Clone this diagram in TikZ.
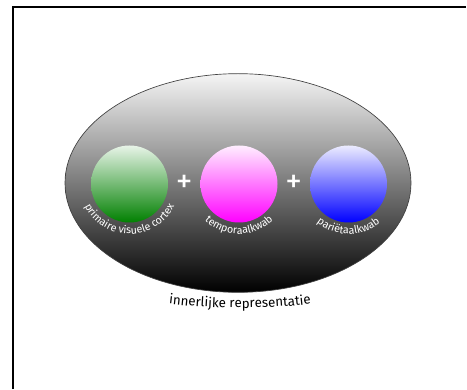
\documentclass[tikz,border=0pt]{standalone}
\usepackage{fontspec}
\setmainfont{Fira Sans}
\usetikzlibrary{shapes.geometric, decorations.text, positioning, calc}

\definecolor{greentop}{RGB}{232,244,232}
\definecolor{greenbot}{RGB}{0,128,0}
\definecolor{pinktop}{RGB}{255,238,255}
\definecolor{pinkbot}{RGB}{255,0,255}
\definecolor{bluetop}{RGB}{236,236,255}
\definecolor{bluebot}{RGB}{0,0,255}

\begin{document}
\begin{tikzpicture}[
    x=0.75pt, y=0.75pt,
    frame/.style={line width=1pt, black},
    brain/.style={ellipse, draw=black!75, line width=0.5pt, top color=white!96!black, bottom color=black, minimum width=259.5pt, minimum height=164pt, inner sep=0pt},
    lobe/.style={circle, minimum size=57.75pt, inner sep=0pt},
    plus/.style={text=white, font=\fontsize{25}{25}\selectfont, inner sep=0pt},
    arclabel/.style={decorate, decoration={text along path, text align=center, text color=white, text={|\fontsize{8}{9}\selectfont|#1}}},
]
\useasboundingbox (0,0) rectangle (467,389);

% === Frame ===
\draw[frame] (13,0) -- (13,382) -- (466,382);

% === Representation ===
\node (rep) [brain] at (238,206) {};

% === Lobes ===
\node (cortex) [lobe, top color=greentop, bottom color=greenbot] at (129.5,205) {};
\node (temporal) [lobe, top color=pinktop, bottom color=pinkbot] at (239,205) {};
\node (parietal) [lobe, top color=bluetop, bottom color=bluebot] at (348.5,205) {};

% === Plus signs ===
\node (plus1) [plus] at ($(cortex)!0.5!(temporal)$) {+};
\node (plus2) [plus] at ($(temporal)!0.5!(parietal)$) {+};

% === Curved labels ===
\path[arclabel={primaire visuele cortex}] (cortex) ++(190:50) arc (190:350:50);
\path[arclabel={temporaalkwab}] (temporal) ++(190:50) arc (190:350:50);
\path[arclabel={pariëtaalkwab}] (parietal) ++(190:50) arc (190:350:50);

\coordinate (capl) at (155,87);
\coordinate (capr) at (325,87);
\path[decorate, decoration={text along path, text align=center, text={|\fontsize{10}{11}\selectfont|innerlijke representatie}}]
    (capl) .. controls (210,79) and (270,79) .. (capr);

\end{tikzpicture}
\end{document}
